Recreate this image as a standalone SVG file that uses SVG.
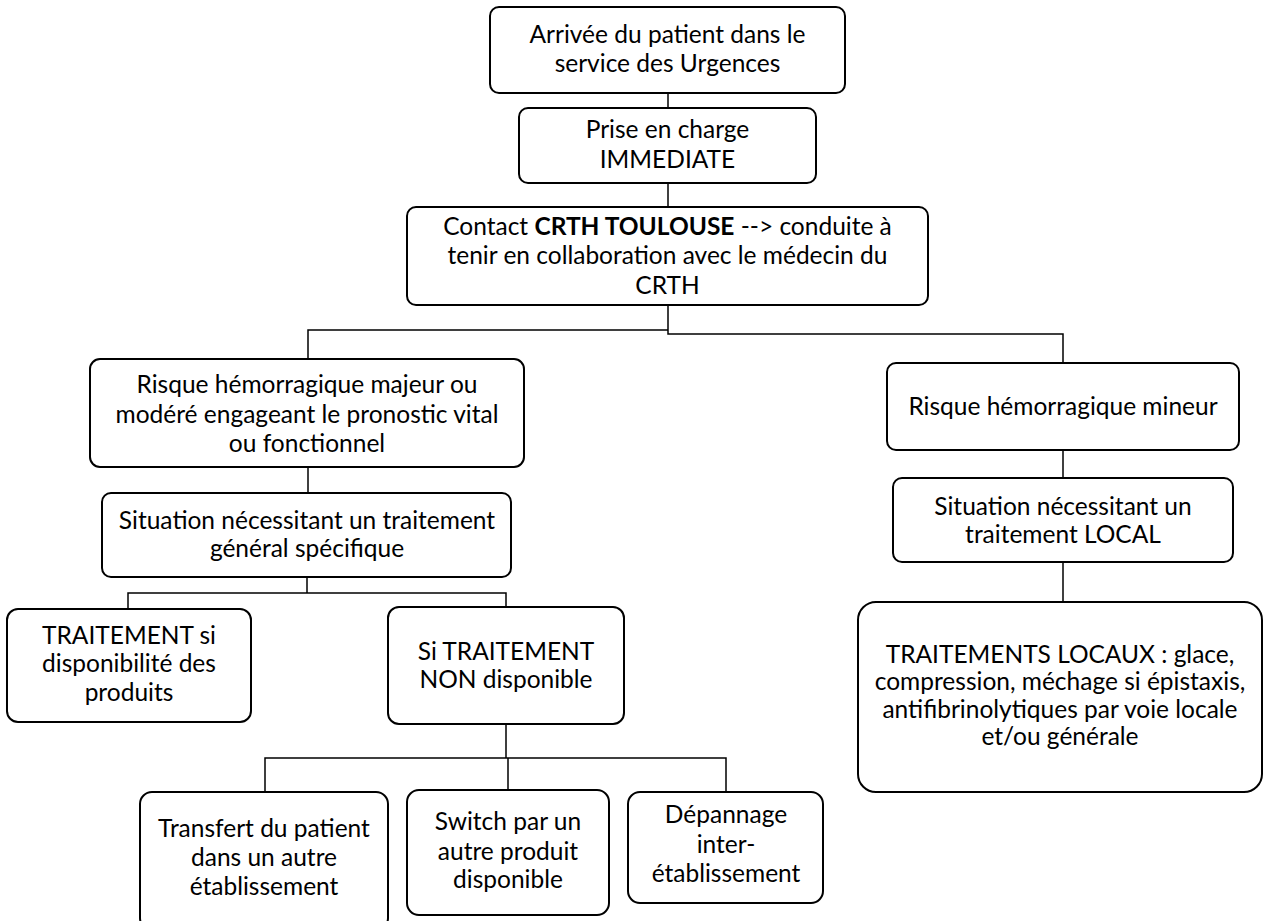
<svg xmlns="http://www.w3.org/2000/svg" width="1265" height="921" viewBox="0 0 1265 921">
<style>
.box{fill:#fff;stroke:#000;stroke-width:2}
.t{font-family:Lato,"Open Sans","Liberation Sans",sans-serif;font-size:24.5px;fill:#000;text-anchor:middle}
.c{fill:none;stroke:#000;stroke-width:1.5}
</style>
<rect width="1265" height="921" fill="#fff"/>
<g id="connectors">
<path class="c" d="M668,93 V108"/>
<path class="c" d="M668,183 V207"/>
<path class="c" d="M308,359 V330 H668"/>
<path class="c" d="M668,305 V334 H1063 V363"/>
<path class="c" d="M308,467 V493"/>
<path class="c" d="M1063,450 V478"/>
<path class="c" d="M1063,562 V602"/>
<path class="c" d="M307,577 V593 M128,609 V593 H506 V607"/>
<path class="c" d="M506,724 V758 M265,792 V758 H726 V792 M508,758 V790"/>
</g>
<g id="n1"><rect class="box" x="490" y="7" width="355" height="86" rx="9"/>
<text class="t" x="667.5" y="43">Arrivée du patient dans le</text>
<text class="t" x="667.5" y="72">service des Urgences</text></g>
<g id="n2"><rect class="box" x="519" y="108" width="297" height="75" rx="9"/>
<text class="t" x="667.5" y="138">Prise en charge</text>
<text class="t" x="667.5" y="168">IMMEDIATE</text></g>
<g id="n3"><rect class="box" x="407" y="207" width="521" height="98" rx="9"/>
<text class="t" x="667.5" y="235">Contact <tspan font-weight="bold">CRTH TOULOUSE</tspan> --&gt; conduite à</text>
<text class="t" x="667.5" y="264">tenir en collaboration avec le médecin du</text>
<text class="t" x="667.5" y="294">CRTH</text></g>
<g id="n4"><rect class="box" x="90" y="359" width="434" height="108" rx="10"/>
<text class="t" x="307" y="393">Risque hémorragique majeur ou</text>
<text class="t" x="307" y="423">modéré engageant le pronostic vital</text>
<text class="t" x="307" y="452">ou fonctionnel</text></g>
<g id="n5"><rect class="box" x="102" y="493" width="409" height="84" rx="9"/>
<text class="t" x="307" y="529">Situation nécessitant un traitement</text>
<text class="t" x="307" y="557">général spécifique</text></g>
<g id="n6"><rect class="box" x="887" y="363" width="352" height="87" rx="9"/>
<text class="t" x="1063" y="415">Risque hémorragique mineur</text></g>
<g id="n7"><rect class="box" x="893" y="478" width="340" height="84" rx="9"/>
<text class="t" x="1063" y="515">Situation nécessitant un</text>
<text class="t" x="1063" y="543">traitement LOCAL</text></g>
<g id="n8"><rect class="box" x="858" y="602" width="404" height="190" rx="18"/>
<text class="t" x="1060" y="663">TRAITEMENTS LOCAUX : glace,</text>
<text class="t" x="1060" y="690">compression, méchage si épistaxis,</text>
<text class="t" x="1060" y="718">antifibrinolytiques par voie locale</text>
<text class="t" x="1060" y="745">et/ou générale</text></g>
<g id="n9"><rect class="box" x="7" y="609" width="244" height="113" rx="11"/>
<text class="t" x="129" y="644">TRAITEMENT si</text>
<text class="t" x="129" y="672">disponibilité des</text>
<text class="t" x="129" y="701">produits</text></g>
<g id="n10"><rect class="box" x="388" y="607" width="236" height="117" rx="11"/>
<text class="t" x="506" y="660">Si TRAITEMENT</text>
<text class="t" x="506" y="688">NON disponible</text></g>
<g id="n11"><rect class="box" x="140" y="792" width="248" height="138" rx="12"/>
<text class="t" x="264" y="837">Transfert du patient</text>
<text class="t" x="264" y="866">dans un autre</text>
<text class="t" x="264" y="895">établissement</text></g>
<g id="n12"><rect class="box" x="407" y="790" width="202" height="125" rx="12"/>
<text class="t" x="508" y="830">Switch par un</text>
<text class="t" x="508" y="860">autre produit</text>
<text class="t" x="508" y="888">disponible</text></g>
<g id="n13"><rect class="box" x="628" y="792" width="195" height="111" rx="12"/>
<text class="t" x="726" y="823">Dépannage</text>
<text class="t" x="726" y="853">inter-</text>
<text class="t" x="726" y="882">établissement</text></g>
</svg>
